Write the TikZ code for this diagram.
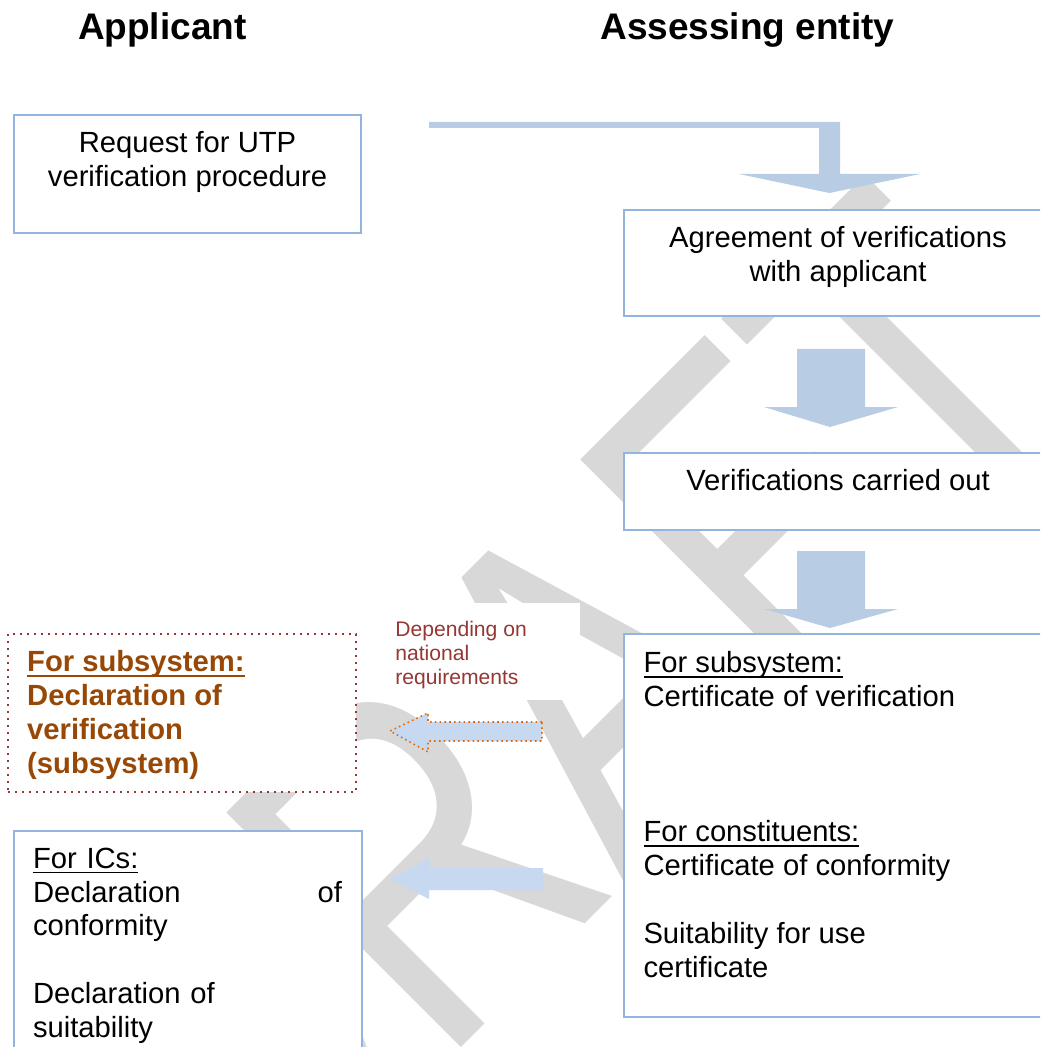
\documentclass[tikz,border=0pt]{standalone}
\usepackage{fontspec}
\setmainfont{Liberation Sans}
\usepackage{graphicx}
\definecolor{boxline}{RGB}{146,180,222}
\definecolor{arrowblue}{RGB}{184,204,228}
\definecolor{arrowlight}{RGB}{198,217,241}
\definecolor{declbrown}{RGB}{151,72,6}
\definecolor{darkred}{RGB}{149,55,52}
\definecolor{orangedot}{RGB}{228,108,10}
\definecolor{wmgray}{RGB}{216,216,216}
\newsavebox\ulbox
\newcommand\myul[1]{\sbox\ulbox{#1}\rlap{\rule[-2.6pt]{\wd\ulbox}{0.9pt}}\usebox\ulbox}
\newcommand\myBody{\fontsize{14.6pt}{16.9pt}\selectfont}
\newcommand\mySmall{\fontsize{10.55pt}{12pt}\selectfont}
\newcommand\myTitle{\fontsize{18.5pt}{21pt}\selectfont\bfseries}
\begin{document}
\begin{tikzpicture}[x=0.5pt,y=-0.5pt,
  box/.style={draw=boxline, line width=1pt, fill=white, inner sep=0pt, outer sep=0pt, anchor=north west},
  txt/.style={inner sep=0pt, outer sep=0pt, font=\myBody},
  blockarrow/.style={fill=arrowblue, draw=none},
  lightarrow/.style={fill=arrowlight, draw=none}]
\clip (0,0) rectangle (1040,1047);
\fill[white] (0,0) rectangle (1040,1047);
% watermark
\node[rotate=45, text=wmgray, inner sep=0pt] (wm) at (564,711)
  {\scalebox{1}[1.34]{\fontsize{180pt}{180pt}\selectfont DRAFT}};
% titles
\node[inner sep=0pt, anchor=base west, font=\myTitle] (apptitle) at (77.6,39.5) {Applicant};
\node[inner sep=0pt, anchor=base west, font=\myTitle] (asstitle) at (600,39.5) {Assessing entity};
% boxes
\node[box, minimum width=173.5pt, minimum height=59pt] (reqbox) at (14,115) {};
\node[box, minimum width=214pt, minimum height=53pt] (agrbox) at (624,210) {};
\node[box, minimum width=214pt, minimum height=38.5pt] (verbox) at (624,453) {};
\node[box, minimum width=214pt, minimum height=191.5pt] (certbox) at (624,634) {};
\node[box, minimum width=174pt, minimum height=115pt] (icbox) at (14,831) {};
\node[fill=white, inner sep=0pt, outer sep=0pt, minimum width=112pt, minimum height=48.5pt, anchor=north west] (depbg) at (356,603) {};
\node[draw=darkred, line width=1pt, dash pattern=on 1pt off 2.5pt, fill=white, inner sep=0pt, outer sep=0pt,
      minimum width=174pt, minimum height=79pt, anchor=north west] (declbox) at (8,634) {};
% texts
\node[txt, anchor=north, align=center] (reqtxt) at (187.5,129.3) {\strut Request for UTP\\verification procedure};
\node[txt, anchor=north, align=center] (agrtxt) at (838,224.3) {\strut Agreement of verifications\\with applicant};
\node[txt, anchor=north] (vertxt) at (838,467.3) {\strut Verifications carried out};
\node[txt, anchor=north west, align=left] (certtxt) at (643.5,649.3)
  {\strut\myul{For subsystem:}\\Certificate of verification\\\strut\\\strut\\\strut\\\myul{For constituents:}\\Certificate of conformity\\\strut\\Suitability for use\\certificate};
\node[txt, anchor=north west, align=left, text=declbrown, font=\myBody\bfseries] (decltxt) at (27.2,648)
  {\strut\myul{For subsystem:}\\Declaration of\\verification\\(subsystem)};
\node[txt, anchor=north west, text width=154.5pt, align=left] (ictxt) at (33,844.6)
  {\strut\myul{For ICs:}\\Declaration\hfill of\\conformity\\\strut\\Declaration of\\suitability};
\node[inner sep=0pt, outer sep=0pt, anchor=north west, align=left, text=darkred, font=\mySmall] (deptxt) at (395.4,619.2)
  {\strut Depending on\\national\\requirements};
% arrows
\fill[blockarrow] (429,122) -- (840,122) -- (840,174) -- (920,174) -- (829.5,193) -- (739,174) -- (819,174) -- (819,128) -- (429,128) -- cycle;
\fill[blockarrow] (797,349) -- (865,349) -- (865,407) -- (898,407) -- (830,427) -- (764,407) -- (797,407) -- cycle;
\fill[blockarrow] (797,551) -- (865,551) -- (865,609) -- (898,609) -- (830,628) -- (764,609) -- (797,609) -- cycle;
\filldraw[lightarrow, draw=orangedot, line width=0.8pt, dash pattern=on 0.8pt off 1.6pt]
  (542,722) -- (428,722) -- (428,713) -- (390,731) -- (428,752) -- (428,741) -- (542,741) -- cycle;
\fill[lightarrow] (543,868) -- (429,868) -- (429,858) -- (390,879) -- (429,899) -- (429,890) -- (543,890) -- cycle;
\end{tikzpicture}
\end{document}
